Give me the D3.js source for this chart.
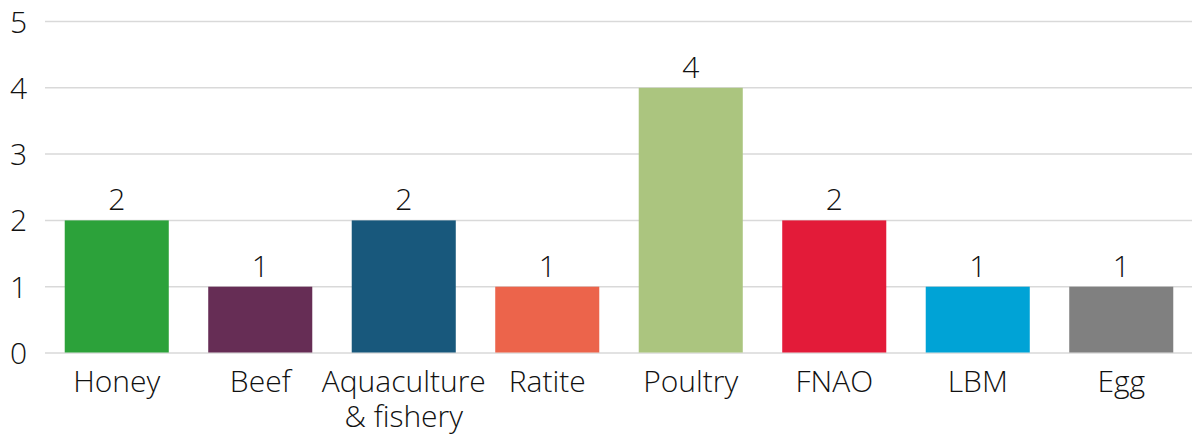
<!DOCTYPE html>
<html><head><meta charset="utf-8">
<script src="https://cdn.jsdelivr.net/npm/d3@7"></script>
<style>body{margin:0;background:#fff}svg text{font-family:"Open Sans",sans-serif;font-weight:300;fill:#111}</style>
</head><body><svg id="c" width="1192" height="437"></svg>
<script>
const categories = ["Honey","Beef","Aquaculture\n& fishery","Ratite","Poultry","FNAO","LBM","Egg"];
const values = [2,1,2,1,4,2,1,1];
const colors = ["#2ca23a","#662d55","#18587c","#ec644b","#abc57f","#e31b39","#00a3d6","#808080"];
const yTicks = [0,1,2,3,4,5];

const svg = d3.select("#c");
const x = d3.scaleBand().domain(categories).range([45,1193]).paddingInner(0.275).paddingOuter(0.1375);
const y = d3.scaleLinear().domain([0,5]).range([353,21.5]);
const fs = 30;

svg.append("g").selectAll("line").data(yTicks).join("line")
  .attr("x1",45).attr("x2",1192).attr("y1",d=>y(d)).attr("y2",d=>y(d))
  .attr("stroke","#d9d9d9").attr("stroke-width",1.5);
svg.append("g").selectAll("text").data(yTicks).join("text")
  .attr("x",27).attr("y",d=>y(d)+11).attr("text-anchor","end")
  .attr("font-size",fs).text(d=>d);

svg.append("g").selectAll("rect").data(values).join("rect")
  .attr("x",(d,i)=>x(categories[i])).attr("width",x.bandwidth())
  .attr("y",d=>y(d)).attr("height",d=>y(0)-y(d)-0.5).attr("fill",(d,i)=>colors[i]);

svg.append("g").selectAll("text").data(values).join("text")
  .attr("x",(d,i)=>x(categories[i])+x.bandwidth()/2).attr("y",d=>y(d)-10)
  .attr("text-anchor","middle").attr("font-size",fs).text(d=>d);

const xl = svg.append("g").selectAll("text").data(categories).join("text")
  .attr("x",d=>x(d)+x.bandwidth()/2).attr("y",392).attr("text-anchor","middle").attr("font-size",fs);
xl.each(function(d){
  const t=d3.select(this);
  d.split("\n").forEach((s,i)=>t.append("tspan").attr("x",x(d)+x.bandwidth()/2).attr("dy",i?35:0).text(s));
});
</script></body></html>
